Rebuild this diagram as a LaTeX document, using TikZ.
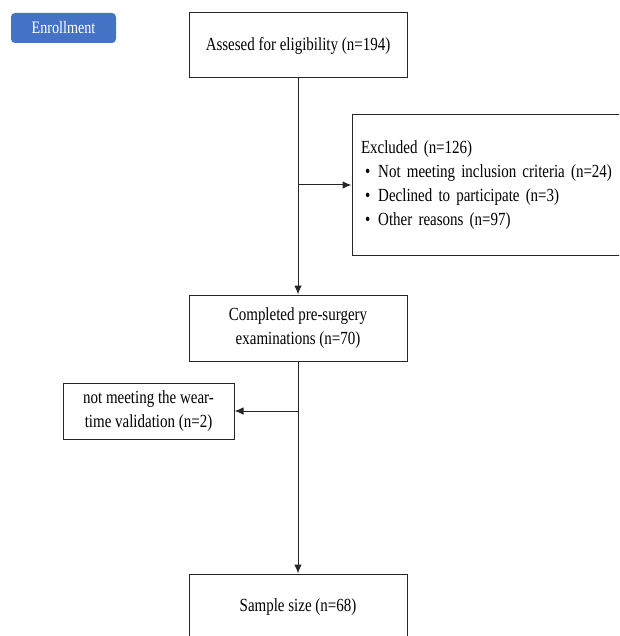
\documentclass[tikz,border=0pt]{standalone}
\usepackage{fontspec}
\setmainfont{Liberation Serif}[FakeStretch=0.81]
\usetikzlibrary{arrows.meta}
\definecolor{enrollblue}{RGB}{68,114,196}
\tikzset{
  box/.style={draw=black!85, line width=1pt, fill=white, align=center,
    font=\fontsize{18.5}{24}\selectfont},
  link/.style={draw=black!85, line width=1pt, -{Latex[length=9pt,width=7.5pt]}},
}

\begin{document}
\begin{tikzpicture}[x=1pt, y=-1pt]
            \clip (0,0) rectangle (619,636);
            \node [fill=enrollblue, rounded corners=4pt, text=white,
                   minimum width=105pt, minimum height=30pt,
                   font=\fontsize{17.5}{20}\selectfont] (enroll) at (63.5,28) {Enrollment};
            \node [box, minimum width=218pt, minimum height=65pt] (assess) at (298,45.5)
                  {Assesed for eligibility (n=194)};
            \node [box, align=left, text width=270pt, inner xsep=9pt,
                   minimum height=140pt] (excl) at (496,185)
                  {Excluded (n=126)\\
                   \hspace*{4pt}\textbullet\hspace{8pt}Not meeting inclusion criteria (n=24)\\
                   \hspace*{4pt}\textbullet\hspace{8pt}Declined to participate (n=3)\\
                   \hspace*{4pt}\textbullet\hspace{8pt}Other reasons (n=97)};
            \node [box, minimum width=218pt, minimum height=66pt] (compl) at (298,328)
                  {Completed pre-surgery\\examinations (n=70)};
            \node [box, minimum width=171pt, minimum height=56pt] (notmeet) at (148.5,411)
                  {not meeting the wear-\\time validation (n=2)};
            \node [box, minimum width=218pt, minimum height=66pt] (sample) at (298,607)
                  {Sample size (n=68)};
            \coordinate (b1) at (assess.south |- excl.west);
            \coordinate (b2) at (compl.south |- notmeet.east);
            \draw [link] (assess.south) -- (compl.north);
            \draw [link] (b1) -- (excl.west);
            \draw [link] (compl.south) -- (sample.north);
            \draw [link] (b2) -- (notmeet.east);
        \end{tikzpicture}
\end{document}
